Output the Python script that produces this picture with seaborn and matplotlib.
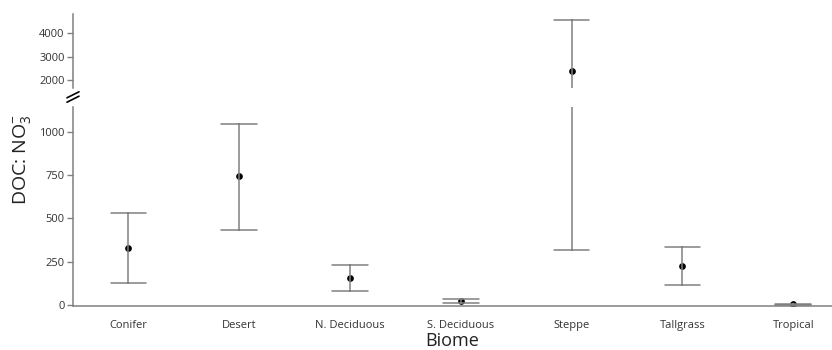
import numpy as np
import pandas as pd
import matplotlib
matplotlib.use("Agg")
import matplotlib.pyplot as plt
import seaborn as sns

biomes = ["Conifer", "Desert", "N. Deciduous", "S. Deciduous", "Steppe", "Tallgrass", "Tropical"]
means = [330, 744, 154, 25, 2396, 225, 6]
lower = [127, 433, 81, 12, 319, 115, 3]
upper = [531, 1044, 229, 36, 4553, 335, 9]

rows = []
for b, lo, m, hi in zip(biomes, lower, means, upper):
    for v in (lo, m, hi):
        rows.append({"Biome": b, "value": v})
df = pd.DataFrame(rows)

sns.set_theme(style="white")
plt.rcParams["font.family"] = ["Open Sans", "DejaVu Sans"]
plt.rcParams["mathtext.fontset"] = "custom"
plt.rcParams["mathtext.rm"] = "Open Sans"
plt.rcParams["mathtext.it"] = "Open Sans"

fig = plt.figure(figsize=(8.32, 3.5), dpi=100)
left, right = 73 / 832, 1.0
ax_top = fig.add_axes([left, 1 - 88 / 350, right - left, (88 - 14) / 350])
ax_bot = fig.add_axes([left, 1 - 306 / 350, right - left, (306 - 107) / 350])

grey = "#808080"
for ax in (ax_top, ax_bot):
    sns.pointplot(data=df, x="Biome", y="value", order=biomes, estimator="median",
                  errorbar=("pi", 100), linestyle="none", color="black",
                  markers="o", markersize=2.8, capsize=0.32,
                  err_kws={"color": grey, "linewidth": 1.1}, ax=ax)
    ax.set_xlim(-0.5, 6.35)
    for s in ("top", "right"):
        ax.spines[s].set_visible(False)
    ax.spines["left"].set_color(grey)
    ax.spines["left"].set_linewidth(1.1)
    ax.tick_params(axis="y", which="both", left=True, length=4, width=1, color=grey,
                   labelsize=8, labelcolor="#333333", pad=2)
    ax.set_ylabel("")

ax_top.set_ylim(1660, 4810)
ax_top.set_yticks([2000, 3000, 4000])
ax_top.spines["bottom"].set_visible(False)
ax_top.tick_params(axis="x", bottom=False, labelbottom=False)
ax_top.set_xlabel("")

ax_bot.set_ylim(-5, 1143)
ax_bot.set_yticks([0, 250, 500, 750, 1000])
ax_bot.spines["bottom"].set_color(grey)
ax_bot.spines["bottom"].set_linewidth(1.1)
ax_bot.tick_params(axis="x", bottom=False, labelsize=8, labelcolor="#333333", pad=4)
ax_bot.set_xlabel("Biome", fontsize=13, color="#222222", labelpad=1)

# break marks
for dy in (-2.2, 2.2):
    y0 = 1 - (97 + dy) / 350
    fig.add_artist(plt.Line2D([left - 6 / 832, left + 6 / 832], [y0 - 3 / 350, y0 + 3 / 350],
                              color="black", linewidth=1.2, transform=fig.transFigure))

fig.text(22 / 832, 1 - 160 / 350, r"DOC: NO$_3^{-}$", rotation=90, fontsize=14,
         ha="center", va="center", color="#222222")

fig.savefig("out.png", dpi=100)
